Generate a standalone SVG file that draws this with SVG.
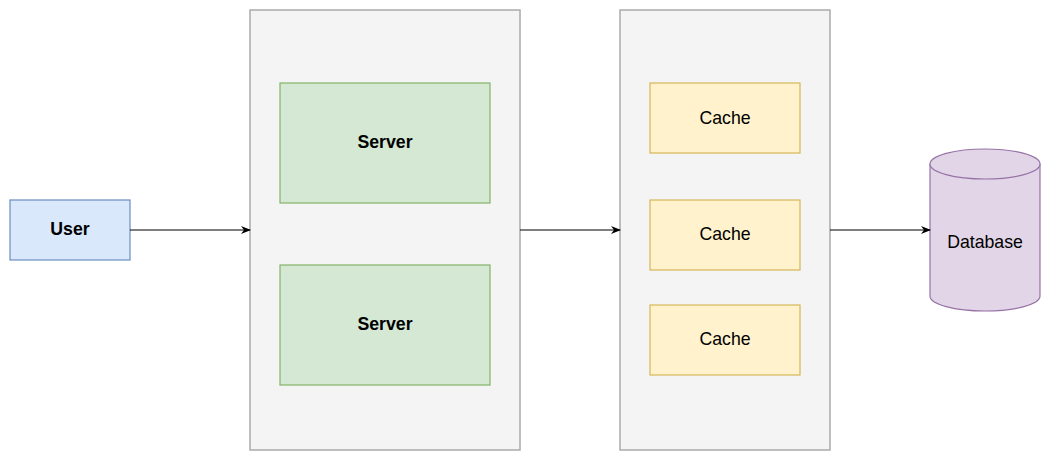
<svg xmlns="http://www.w3.org/2000/svg" width="1051" height="461" viewBox="0 0 1051 461">
<defs>
<style>
.t{font-family:"Liberation Sans",Arial,sans-serif;font-size:17.7px;fill:#000;text-anchor:middle}
.b{font-weight:bold}
.ct{fill:#f4f4f4;stroke:#ababab;stroke-width:1.5}
.srv{fill:#d5e8d4;stroke:#82b366;stroke-width:1.2}
.cch{fill:#fff2cc;stroke:#d6b656;stroke-width:1.2}
.usr{fill:#dae8fc;stroke:#6c8ebf;stroke-width:1.2}
.db{fill:#e1d5e7;stroke:#9673a6;stroke-width:1.2}
.edge{stroke:#000;stroke-width:1.2;fill:none;marker-end:url(#arr)}
</style>
<marker id="arr" viewBox="0 0 10 10" refX="9" refY="5" markerWidth="10" markerHeight="10" markerUnits="userSpaceOnUse" orient="auto">
<path d="M0,1 L10,5 L0,9 L3,5 Z" fill="#000"/>
</marker>
</defs>
<rect width="1051" height="461" fill="#fff"/>
<g id="server-group">
<rect class="ct" x="250" y="10" width="270" height="440"/>
</g>
<g id="cache-group">
<rect class="ct" x="620" y="10" width="210" height="440"/>
</g>
<g id="user">
<rect class="usr" x="10" y="200" width="120" height="60"/>
<text class="t b" x="70" y="235">User</text>
</g>
<g id="server1">
<rect class="srv" x="280" y="83" width="210" height="120"/>
<text class="t b" x="385" y="148">Server</text>
</g>
<g id="server2">
<rect class="srv" x="280" y="265" width="210" height="120"/>
<text class="t b" x="385" y="329.5">Server</text>
</g>
<g id="cache1">
<rect class="cch" x="650" y="83" width="150" height="70"/>
<text class="t" x="725" y="123.5">Cache</text>
</g>
<g id="cache2">
<rect class="cch" x="650" y="200" width="150" height="70"/>
<text class="t" x="725" y="240">Cache</text>
</g>
<g id="cache3">
<rect class="cch" x="650" y="305" width="150" height="70"/>
<text class="t" x="725" y="344.5">Cache</text>
</g>
<g id="database">
<path class="db" d="M930,164 A55,15 0 0 1 1040,164 L1040,296 A55,15 0 0 1 930,296 Z"/>
<path class="db" d="M930,164 A55,15 0 0 0 1040,164" fill="none"/>
<text class="t" x="985" y="247.5">Database</text>
</g>
<g id="connectors">
<line class="edge" x1="130" y1="230" x2="250" y2="230"/>
<line class="edge" x1="520" y1="230" x2="620" y2="230"/>
<line class="edge" x1="830" y1="230" x2="930" y2="230"/>
</g>
</svg>
